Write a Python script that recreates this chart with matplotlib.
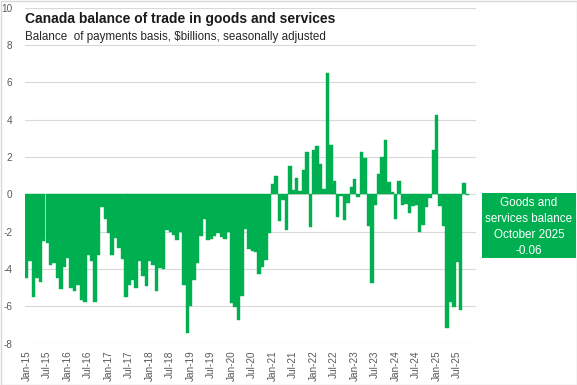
import matplotlib
matplotlib.use("Agg")
import matplotlib.pyplot as plt
from matplotlib.patches import Rectangle
import numpy as np

# Monthly balance, $billions (Jan 2015 - Oct 2025)
bal_2015 = [-4.5, -3.6, -5.5, -4.5, -4.7, -2.5, -2.6, -3.8, -3.7, -4.5, -5.1, -3.9]
bal_2016 = [-3.4, -5.0, -5.2, -4.85, -5.65, -5.75, -3.25, -3.55, -5.75, -3.25, -0.7, -1.3]
bal_2017 = [-2.1, -3.25, -2.35, -2.9, -3.45, -5.5, -4.85, -4.6, -5.05, -3.6, -4.4, -4.9]
bal_2018 = [-3.6, -3.8, -5.2, -3.95, -4.0, -1.9, -2.0, -2.2, -2.45, -2.0, -4.85, -7.45]
bal_2019 = [-6.0, -4.6, -3.7, -2.25, -1.3, -2.45, -2.4, -2.25, -2.1, -2.3, -2.4, -2.0]
bal_2020 = [-5.85, -6.05, -6.75, -5.45, -1.85, -2.95, -3.05, -3.1, -4.25, -3.9, -3.5, -2.05]
bal_2021 = [0.55, 1.0, -1.45, -0.3, -1.9, 1.5, 0.25, 0.9, 0.2, 1.3, 2.25, -1.75]
bal_2022 = [2.4, 2.6, 1.65, 0.3, 6.5, 2.65, 0.7, -1.2, -0.1, -1.4, -0.45, 0.4]
bal_2023 = [0.8, -0.15, 2.25, 1.95, -1.7, -4.75, -0.6, 1.1, 2.0, 2.9, 0.65, 0.1]
bal_2024 = [-1.35, 0.7, -0.6, -0.5, -1.0, -0.65, -0.6, -2.0, -1.65, -0.7, -0.2, 2.4]
bal_2025 = [4.25, -0.65, -1.7, -7.15, -5.8, -6.05, -3.65, -6.2, 0.62, -0.06]

years = ["15", "16", "17", "18", "19", "20", "21", "22", "23", "24", "25"]
tick_labels = [f"{m}-{y}" for y in years for m in ("Jan", "Jul")]
n_categories = 132  # Jan-15 .. Dec-25 on the category axis

title = "Canada balance of trade in goods and services"
subtitle = "Balance  of payments basis, $billions, seasonally adjusted"
box_lines = ["Goods and", "services balance", "October 2025", "-0.06"]

values = (bal_2015 + bal_2016 + bal_2017 + bal_2018 + bal_2019 + bal_2020
          + bal_2021 + bal_2022 + bal_2023 + bal_2024 + bal_2025)

GREEN = "#00B050"
W, H = 577, 385
fig = plt.figure(figsize=(W / 100, H / 100), dpi=100)
fig.patch.set_facecolor("white")

left, right, top, bottom = 25, 476, 7.8, 343.5
ax = fig.add_axes([left / W, 1 - bottom / H, (right - left) / W, (bottom - top) / H])
x = np.arange(len(values))
ax.bar(x, values, width=1.0, color=GREEN, edgecolor=GREEN, linewidth=0.3, zorder=2)
ax.set_xlim(-0.5, n_categories - 0.5)
ax.set_ylim(-8, 10)
ax.set_yticks(range(-8, 11, 2))
ax.set_yticklabels([str(v) for v in range(-8, 11, 2)])
ax.grid(axis="y", color="#d9d9d9", linewidth=0.8, zorder=0)
ax.set_axisbelow(True)
for s in ax.spines.values():
    s.set_visible(False)
ax.set_xticks(np.arange(0, len(tick_labels) * 6, 6))
ax.set_xticklabels(tick_labels, rotation=90)
ax.tick_params(axis="both", length=0, labelsize=7.2, colors="#595959")
ax.tick_params(axis="y", pad=9)
ax.tick_params(axis="x", pad=5)
for lab in ax.get_xticklabels() + ax.get_yticklabels():
    lab.set_fontfamily(["Liberation Sans", "DejaVu Sans"])

fam = ["Liberation Sans Narrow", "Liberation Sans", "DejaVu Sans"]
fig.text(left / W, 1 - 19.5 / H, title, fontsize=10, fontweight="bold",
         family=fam, va="center", ha="left", color="#1a1a1a")
fig.text(left / W, 1 - 37 / H, subtitle, fontsize=8.4, family=fam,
         va="center", ha="left", color="#262626")

# annotation box
bx0, bx1, by0, by1 = 482, 576, 193, 258
fig.patches.append(Rectangle((bx0 / W, 1 - by1 / H), (bx1 - bx0) / W, (by1 - by0) / H,
                             transform=fig.transFigure, facecolor=GREEN, edgecolor="none"))
for i, line in enumerate(box_lines):
    fig.text((bx0 + bx1) / 2 / W, 1 - (202.7 + i * 16) / H, line, color="white",
             fontsize=8.4, family=fam, ha="center", va="center")

# chart border
fig.patches.append(Rectangle((0.5 / W, 0.5 / H), (W - 1) / W, (H - 1) / H,
                             transform=fig.transFigure, facecolor="none",
                             edgecolor="#d9d9d9", linewidth=1))

fig.savefig("out.png", dpi=100)
